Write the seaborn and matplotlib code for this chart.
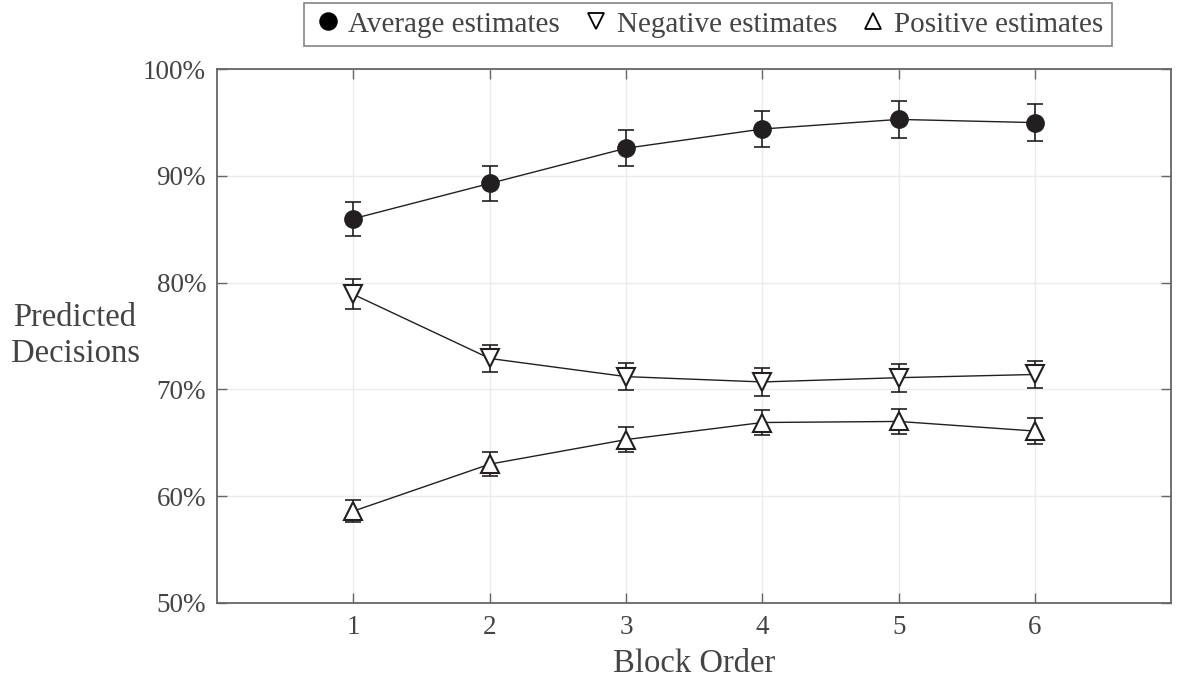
import numpy as np
import pandas as pd
import matplotlib
matplotlib.use("Agg")
import matplotlib.pyplot as plt
from matplotlib.lines import Line2D
from matplotlib.ticker import FuncFormatter
import seaborn as sns

# Predicted decisions (%) by block order, with standard-error half-widths
block_order = [1, 2, 3, 4, 5, 6]
average_est = [86.0, 89.3, 92.6, 94.4, 95.3, 95.0]
average_err = [1.6, 1.6, 1.7, 1.7, 1.7, 1.7]
negative_est = [78.9, 72.9, 71.2, 70.7, 71.1, 71.4]
negative_err = [1.4, 1.3, 1.3, 1.3, 1.3, 1.3]
positive_est = [58.6, 63.0, 65.3, 66.9, 67.0, 66.1]
positive_err = [1.05, 1.1, 1.2, 1.2, 1.2, 1.2]
series_names = ["Average estimates", "Negative estimates", "Positive estimates"]
y_ticks = [50, 60, 70, 80, 90, 100]

sns.set_theme(style="white")
plt.rcParams["font.family"] = ["Liberation Serif", "DejaVu Serif"]
plt.rcParams["mathtext.fontset"] = "stix"

ink = "#231f20"
axis_gray = "#666666"
text_gray = "#444444"

frames = []
for name, est, err in zip(series_names,
                          [average_est, negative_est, positive_est],
                          [average_err, negative_err, positive_err]):
    frames.append(pd.DataFrame({"block": block_order, "pred": est,
                                "err": err, "series": name}))
df = pd.concat(frames, ignore_index=True)

fig = plt.figure(figsize=(12, 6.89), dpi=100)
ax = fig.add_axes([0.181, 0.125, 0.795, 0.7745])

marker_styles = {"Average estimates": "o",
                 "Negative estimates": "v",
                 "Positive estimates": "^"}
marker_faces = {"Average estimates": ink,
                "Negative estimates": "white",
                "Positive estimates": "white"}
marker_sizes = {"Average estimates": 12,
                "Negative estimates": 13,
                "Positive estimates": 13}

for name in series_names:
    sub = df[df["series"] == name]
    ax.errorbar(sub["block"], sub["pred"], yerr=sub["err"], fmt="none",
                ecolor=ink, elinewidth=1.2, capsize=5.5, capthick=1.2,
                zorder=2)
    sns.lineplot(data=sub, x="block", y="pred", ax=ax, color=ink,
                 linewidth=1.0, marker=marker_styles[name],
                 markersize=marker_sizes[name],
                 markerfacecolor=marker_faces[name],
                 markeredgecolor=ink, markeredgewidth=1.5,
                 errorbar=None, legend=False, zorder=3)

ax.set_xlim(0, 7)
ax.set_ylim(50, 100)
ax.set_xticks(block_order)
ax.set_yticks(y_ticks)
ax.yaxis.set_major_formatter(FuncFormatter(lambda v, _: f"{v:.0f}%"))

ax.grid(True, color="#ebebeb", linewidth=1.0, zorder=0)
ax.set_axisbelow(True)
for side in ["left", "right", "top", "bottom"]:
    ax.spines[side].set_visible(True)
    ax.spines[side].set_color(axis_gray)
    ax.spines[side].set_linewidth(1.3)

ax.tick_params(axis="both", which="major", direction="in", length=7,
               width=1.0, color=axis_gray, labelsize=19.5,
               labelcolor=text_gray, top=True, right=True,
               bottom=True, left=True)
ax.tick_params(axis="x", pad=9)
ax.tick_params(axis="y", pad=8)

ax.set_xlabel("Block Order", fontsize=23.5, color=text_gray, labelpad=6)
ax.set_ylabel("Predicted\nDecisions", fontsize=23.5, color=text_gray,
              rotation=0, ha="center", va="center", linespacing=1.25)
ax.yaxis.set_label_coords(-0.149, 0.5)

legend_sizes = {"Average estimates": 12,
                "Negative estimates": 12,
                "Positive estimates": 12}
legend_faces = {"Average estimates": "black",
                "Negative estimates": "white",
                "Positive estimates": "white"}
handles = [Line2D([], [], linestyle="none", marker=marker_styles[n],
                  markersize=legend_sizes[n], markerfacecolor=legend_faces[n],
                  markeredgecolor="black", markeredgewidth=1.3)
           for n in series_names]
leg = fig.legend(handles, series_names, loc="upper center",
                 bbox_to_anchor=(708 / 1200, 1 - 2.5 / 689), ncol=3,
                 fontsize=21, frameon=True, fancybox=False,
                 handlelength=1.0, handletextpad=0.2, columnspacing=0.75,
                 borderpad=0.3, borderaxespad=0.0)
leg.get_frame().set_edgecolor(axis_gray)
leg.get_frame().set_linewidth(1.2)
for t in leg.get_texts():
    t.set_color(text_gray)

fig.savefig("out.png", dpi=100)
